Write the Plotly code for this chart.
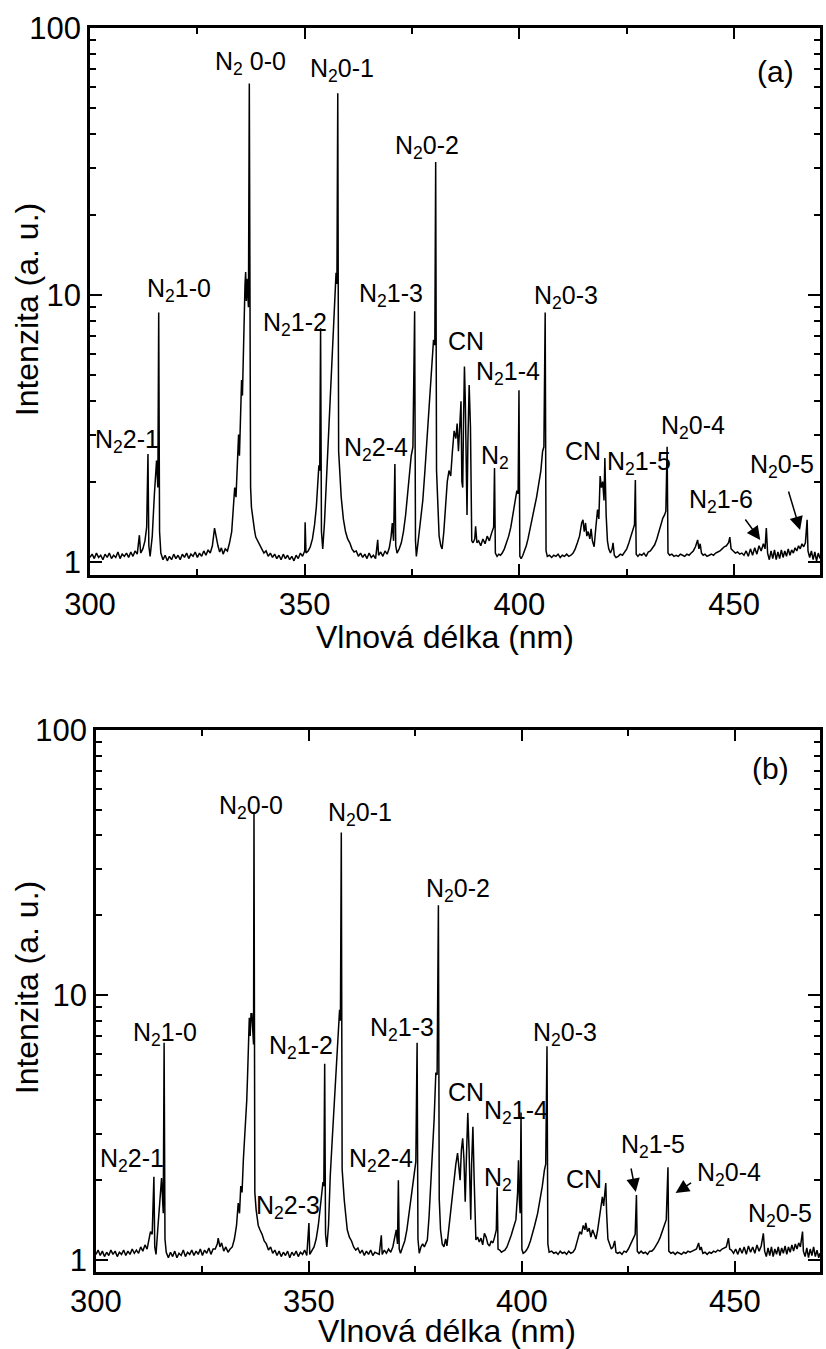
import plotly.graph_objects as go

# ---------------- data: panel (a) ----------------
wl_a = [300.0,300.5,301.0,301.5,302.0,302.5,303.0,303.5,304.0,304.5,305.0,305.5,306.0,306.5,307.0,307.5,308.0,308.5,309.0,309.5,
        310.0,310.5,311.0,311.5,311.8,312.3,312.8,313.2,313.5,313.7,314.0,314.5,315.0,315.5,315.8,316.0,316.2,316.5,317.0,317.5,
        318.0,318.5,319.0,319.5,320.0,320.5,321.0,321.5,322.0,322.5,323.0,323.5,324.0,324.5,325.0,325.5,326.0,326.5,327.0,327.5,
        328.0,328.5,329.0,329.4,329.8,330.2,330.6,331.0,331.5,332.0,332.5,333.0,333.4,333.7,334.0,334.3,334.6,334.8,335.0,335.3,
        335.5,335.7,335.9,336.1,336.25,336.4,336.55,336.7,336.9,337.1,337.25,337.4,337.6,337.8,338.0,338.3,338.6,339.0,339.5,340.0,
        340.5,341.0,341.5,342.0,342.5,343.0,343.5,344.0,344.5,345.0,345.5,346.0,346.5,347.0,347.5,348.0,348.5,349.0,349.5,350.0,
        350.1,350.3,350.8,351.3,351.8,352.3,352.7,353.0,353.3,353.5,353.7,353.9,354.2,354.6,355.0,355.4,355.8,356.2,356.6,357.0,
        357.3,357.5,357.7,357.9,358.2,358.5,359.0,359.5,360.0,360.5,361.0,361.5,362.0,362.5,363.0,363.5,364.0,364.5,365.0,365.5,
        366.0,366.5,367.0,367.2,367.7,368.2,368.7,369.2,369.7,370.1,370.4,370.7,371.0,371.2,371.5,372.0,372.5,373.0,373.5,374.0,
        374.4,374.8,375.2,375.6,375.8,376.0,376.3,376.7,377.1,377.5,378.0,378.5,379.0,379.5,380.0,380.3,380.5,380.7,381.0,381.3,
        381.7,382.0,382.4,382.8,383.2,383.6,384.0,384.4,384.8,385.2,385.5,385.8,386.1,386.4,386.6,386.8,387.0,387.2,387.4,387.6,
        387.8,388.0,388.3,388.6,388.9,389.2,389.6,389.8,390.1,390.5,391.0,391.5,392.0,392.5,393.0,393.5,394.0,394.2,394.4,394.8,
        395.2,395.6,396.0,396.5,397.0,397.5,398.0,398.5,399.0,399.4,399.7,399.9,400.1,400.4,400.8,401.2,401.6,402.0,402.5,403.0,
        403.5,404.0,404.5,405.0,405.4,405.7,406.0,406.2,406.5,407.0,407.5,408.0,408.5,409.0,409.5,410.0,410.5,411.0,411.5,412.0,
        412.5,413.0,413.5,414.0,414.5,414.8,415.1,415.4,415.7,416.0,416.4,416.7,417.0,417.4,417.8,418.2,418.5,418.8,419.1,419.4,
        419.7,419.9,420.2,420.5,420.8,421.2,421.6,421.8,422.1,422.5,423.0,423.5,424.0,424.5,425.0,425.5,426.0,426.5,426.8,427.0,
        427.2,427.6,428.0,428.5,429.0,429.5,430.0,430.5,431.0,431.5,432.0,432.5,433.0,433.4,433.8,434.1,434.4,434.6,435.0,435.5,
        436.0,436.5,437.0,437.5,438.0,438.5,439.0,439.5,440.0,440.5,441.0,441.5,441.8,442.1,442.4,442.8,443.2,443.7,444.2,444.7,
        445.2,445.7,446.2,446.7,447.2,447.7,448.2,448.7,449.0,449.3,449.8,450.3,450.8,451.3,451.8,452.3,452.8,453.3,453.8,454.3,
        454.8,455.3,455.8,456.3,456.8,457.2,457.5,457.8,458.2,458.6,459.0,459.4,459.8,460.2,460.6,461.0,461.4,461.8,462.2,462.6,
        463.0,463.4,463.8,464.2,464.6,465.0,465.4,465.8,466.2,466.6,467.0,467.2,467.6,468.0,468.4,468.8,469.2,469.6,470.0]
int_a = [1.04,1.07,1.03,1.08,1.04,1.06,1.02,1.07,1.04,1.08,1.03,1.06,1.04,1.09,1.03,1.07,1.05,1.08,1.04,1.09,
         1.05,1.10,1.07,1.26,1.08,1.12,1.20,1.35,2.54,1.15,1.05,1.25,1.80,2.40,1.90,8.60,1.30,1.08,1.02,1.06,
         1.01,1.05,1.02,1.07,1.03,1.06,1.02,1.07,1.04,1.08,1.03,1.07,1.05,1.09,1.04,1.08,1.05,1.10,1.06,1.11,
         1.08,1.15,1.34,1.22,1.15,1.09,1.13,1.07,1.12,1.10,1.18,1.30,1.55,1.90,1.75,2.40,3.00,2.50,3.60,4.80,
         4.20,6.50,8.00,11.0,12.2,9.50,11.5,10.4,9.00,62.0,2.30,1.90,1.60,1.50,1.38,1.32,1.24,1.20,1.15,1.12,
         1.08,1.10,1.05,1.08,1.04,1.07,1.03,1.06,1.02,1.07,1.03,1.06,1.02,1.05,1.01,1.06,1.03,1.08,1.05,1.10,
         1.41,1.08,1.10,1.14,1.22,1.38,1.60,1.90,2.30,2.20,7.50,1.30,1.12,1.40,1.90,2.60,3.40,4.60,6.50,9.00,
         12.1,11.0,57.0,2.60,2.10,1.75,1.45,1.30,1.22,1.18,1.12,1.09,1.10,1.05,1.08,1.04,1.07,1.03,1.08,1.04,
         1.06,1.03,1.21,1.06,1.09,1.05,1.10,1.07,1.13,1.24,1.40,1.20,2.33,1.15,1.08,1.12,1.18,1.30,1.50,1.80,
         2.10,2.50,2.70,8.70,1.20,1.05,1.15,1.30,1.45,1.70,2.20,2.90,3.70,5.00,6.80,6.50,31.5,2.20,1.50,1.25,
         1.15,1.12,1.30,1.70,2.00,2.20,2.10,2.60,3.10,2.90,3.30,2.60,3.50,4.00,2.00,1.90,3.50,5.40,4.00,2.50,
         1.50,2.80,4.60,3.20,1.20,1.18,1.22,1.36,1.18,1.20,1.15,1.22,1.17,1.25,1.20,1.28,1.35,2.25,1.08,1.05,
         1.07,1.06,1.08,1.12,1.18,1.25,1.35,1.50,1.70,1.85,1.80,4.40,1.05,1.03,1.06,1.10,1.15,1.22,1.35,1.48,
         1.60,1.75,1.95,2.20,2.60,2.70,8.60,1.10,1.05,1.06,1.04,1.06,1.05,1.07,1.04,1.06,1.05,1.07,1.05,1.06,
         1.08,1.12,1.18,1.25,1.40,1.44,1.30,1.40,1.25,1.30,1.22,1.33,1.20,1.14,1.35,1.57,1.45,2.10,1.90,2.00,
         1.70,2.45,1.50,1.20,1.12,1.08,1.12,1.18,1.06,1.04,1.05,1.07,1.06,1.09,1.12,1.18,1.25,1.35,1.38,2.03,
         1.07,1.05,1.07,1.06,1.08,1.05,1.09,1.10,1.13,1.16,1.22,1.30,1.38,1.46,1.50,1.55,2.70,1.08,1.06,1.07,
         1.05,1.06,1.05,1.07,1.06,1.05,1.07,1.06,1.08,1.10,1.14,1.21,1.12,1.17,1.08,1.06,1.07,1.05,1.06,1.07,
         1.06,1.08,1.09,1.10,1.12,1.14,1.15,1.18,1.24,1.12,1.10,1.08,1.09,1.07,1.08,1.06,1.10,1.05,1.12,1.06,
         1.13,1.07,1.15,1.10,1.17,1.12,1.34,1.08,1.02,1.10,1.03,1.11,1.02,1.09,1.03,1.11,1.04,1.10,1.05,1.12,
         1.06,1.11,1.08,1.13,1.10,1.15,1.12,1.17,1.14,1.18,1.44,1.10,1.04,1.10,1.02,1.09,1.01,1.08,1.03]

# ---------------- data: panel (b) ----------------
wl_b = [300.0,300.5,301.0,301.5,302.0,302.5,303.0,303.5,304.0,304.5,305.0,305.5,306.0,306.5,307.0,307.5,308.0,308.5,309.0,309.5,
        310.0,310.5,311.0,311.5,312.0,312.5,312.8,313.2,313.6,313.8,314.1,314.5,315.0,315.4,315.8,316.0,316.2,316.5,317.0,317.5,
        318.0,318.5,319.0,319.5,320.0,320.5,321.0,321.5,322.0,322.5,323.0,323.5,324.0,324.5,325.0,325.5,326.0,326.5,327.0,327.5,
        328.0,328.5,328.7,329.1,329.5,330.0,330.5,331.0,331.5,332.0,332.5,333.0,333.4,333.7,334.0,334.3,334.6,334.9,335.2,335.4,
        335.6,335.8,336.0,336.2,336.4,336.6,336.8,337.0,337.1,337.3,337.6,337.8,338.1,338.5,339.0,339.5,340.0,340.5,341.0,341.5,
        342.0,342.5,343.0,343.5,344.0,344.5,345.0,345.5,346.0,346.5,347.0,347.5,348.0,348.5,349.0,349.5,350.0,350.2,350.7,351.2,
        351.7,352.2,352.7,353.0,353.3,353.5,353.7,353.9,354.2,354.6,355.0,355.5,356.1,356.6,357.0,357.2,357.4,357.6,357.8,358.0,
        358.3,358.7,359.0,359.5,360.0,360.5,361.0,361.5,362.0,362.5,363.0,363.5,364.0,364.5,365.0,365.5,366.0,366.5,367.0,367.2,
        367.7,368.2,368.7,369.2,369.7,370.0,370.5,370.8,371.0,371.2,371.5,372.0,372.5,373.0,373.5,374.0,374.4,374.8,375.1,375.4,
        375.6,375.9,376.3,376.7,377.1,377.5,377.8,378.2,378.6,379.0,379.4,379.8,380.1,380.4,380.6,380.9,381.3,381.7,382.1,382.4,
        382.8,383.2,383.7,384.1,384.5,384.9,385.2,385.5,385.8,386.1,386.4,386.7,387.0,387.3,387.6,388.0,388.2,388.5,388.8,389.2,
        389.6,390.0,390.4,390.8,391.2,391.6,392.0,392.4,392.8,393.2,393.6,394.0,394.2,394.4,394.8,395.2,395.6,396.0,396.5,397.0,
        397.5,398.0,398.6,399.0,399.2,399.4,399.6,399.8,400.0,400.3,400.7,401.1,401.5,402.0,402.5,403.0,403.7,404.2,404.8,405.3,
        405.6,405.9,406.1,406.4,407.0,407.5,408.0,408.5,409.0,409.5,410.0,410.5,411.0,411.5,412.0,412.5,413.1,413.6,414.0,414.4,
        414.8,415.0,415.4,415.8,416.2,416.6,417.0,417.4,417.8,418.2,418.6,418.9,419.2,419.5,419.7,419.9,420.2,420.6,421.0,421.4,
        421.8,422.1,422.5,423.0,423.5,424.0,424.5,425.0,425.5,426.0,426.3,426.6,426.9,427.1,427.5,428.0,428.5,429.0,429.5,430.0,
        430.5,431.0,431.5,432.0,432.5,433.0,433.6,433.9,434.3,434.5,435.0,435.5,436.0,436.5,437.0,437.5,438.0,438.5,439.0,439.5,
        440.0,440.5,441.0,441.5,441.8,442.1,442.5,443.0,443.5,444.0,444.5,445.0,445.5,446.0,446.5,447.0,447.5,448.0,448.5,448.8,
        449.2,449.7,450.2,450.7,451.2,451.7,452.2,452.7,453.2,453.7,454.2,454.7,455.2,455.7,456.2,456.7,457.0,457.4,457.8,458.2,
        458.6,459.0,459.4,459.8,460.2,460.6,461.0,461.4,461.8,462.2,462.6,463.0,463.4,463.8,464.2,464.6,465.0,465.4,465.9,466.1,
        466.5,466.9,467.3,467.7,468.1,468.5,468.9,469.3,469.7,470.0]
int_b = [1.05,1.09,1.04,1.08,1.03,1.07,1.04,1.09,1.05,1.08,1.03,1.07,1.05,1.09,1.04,1.08,1.05,1.10,1.06,1.09,
         1.06,1.12,1.08,1.14,1.10,1.20,1.28,1.25,2.06,1.12,1.05,1.30,1.70,2.04,1.50,6.60,1.20,1.07,1.02,1.07,
         1.03,1.08,1.02,1.06,1.04,1.09,1.03,1.07,1.05,1.09,1.04,1.08,1.05,1.10,1.04,1.09,1.06,1.11,1.05,1.10,
         1.10,1.15,1.21,1.12,1.16,1.08,1.12,1.07,1.10,1.12,1.20,1.35,1.64,1.50,1.90,1.80,2.38,2.80,3.30,4.00,
         5.00,6.50,8.20,7.00,8.50,8.50,7.50,6.50,49.0,1.80,1.55,1.45,1.35,1.30,1.25,1.18,1.15,1.09,1.12,1.06,
         1.09,1.04,1.08,1.03,1.07,1.04,1.08,1.02,1.07,1.04,1.08,1.03,1.07,1.05,1.09,1.04,1.38,1.05,1.08,1.12,
         1.20,1.35,1.60,1.80,1.97,1.90,5.50,1.25,1.12,1.35,2.06,2.90,4.27,6.00,7.80,8.80,8.00,41.0,2.20,1.90,
         1.68,1.45,1.30,1.22,1.18,1.12,1.09,1.11,1.06,1.09,1.04,1.08,1.05,1.09,1.04,1.07,1.06,1.05,1.24,1.05,
         1.09,1.06,1.10,1.07,1.12,1.18,1.30,1.15,2.00,1.10,1.06,1.12,1.18,1.30,1.50,1.75,2.00,2.24,2.35,6.60,
         1.20,1.06,1.12,1.15,1.12,1.16,1.19,1.45,1.90,2.38,3.40,5.10,5.00,21.8,1.70,1.30,1.15,1.12,1.20,1.13,
         1.30,1.55,1.79,2.00,2.30,2.53,2.20,2.00,2.60,2.88,2.40,1.66,2.50,3.59,2.60,1.42,2.30,3.18,2.00,1.19,
         1.22,1.17,1.21,1.14,1.26,1.22,1.15,1.13,1.18,1.16,1.22,1.30,1.88,1.10,1.09,1.07,1.08,1.09,1.12,1.17,
         1.24,1.32,1.42,1.80,2.38,1.70,1.50,3.60,1.10,1.06,1.07,1.09,1.12,1.18,1.25,1.35,1.50,1.65,1.90,2.19,
         2.30,6.40,1.15,1.07,1.08,1.06,1.07,1.05,1.08,1.06,1.07,1.05,1.08,1.06,1.07,1.10,1.19,1.28,1.25,1.35,
         1.30,1.38,1.28,1.32,1.22,1.30,1.25,1.20,1.30,1.45,1.60,1.73,1.60,1.80,1.95,1.50,1.20,1.15,1.10,1.12,
         1.18,1.07,1.06,1.07,1.05,1.08,1.07,1.10,1.14,1.18,1.22,1.25,1.76,1.08,1.06,1.08,1.06,1.07,1.05,1.08,
         1.08,1.10,1.13,1.17,1.22,1.28,1.38,1.42,2.24,1.08,1.06,1.07,1.05,1.07,1.06,1.05,1.07,1.06,1.08,1.07,
         1.08,1.09,1.10,1.16,1.09,1.12,1.06,1.07,1.05,1.07,1.06,1.08,1.07,1.09,1.08,1.10,1.11,1.12,1.21,1.10,
         1.09,1.06,1.10,1.05,1.11,1.06,1.12,1.05,1.13,1.07,1.12,1.06,1.14,1.08,1.13,1.26,1.08,1.03,1.11,1.04,
         1.12,1.03,1.10,1.05,1.12,1.04,1.11,1.06,1.13,1.05,1.12,1.07,1.14,1.08,1.15,1.10,1.16,1.12,1.28,1.08,
         1.03,1.11,1.02,1.10,1.04,1.12,1.03,1.09,1.02,1.06]

# axis settings (values)
x_range = [300, 470]
x_tick0, x_dtick, x_minor_dtick = 300, 50, 25

# labels: (text, x_px, y_px, font size)
labels_a = [("N<sub>2</sub> 0-0", 251, 63, 25), ("N<sub>2</sub>0-1", 343, 70, 25), ("N<sub>2</sub>0-2", 428, 147, 25),
            ("N<sub>2</sub>1-0", 179, 290, 25), ("N<sub>2</sub>1-2", 296, 324, 25), ("N<sub>2</sub>1-3", 392, 295, 25),
            ("N<sub>2</sub>0-3", 568, 297, 25), ("CN", 468, 341, 25), ("N<sub>2</sub>1-4", 510, 373, 25),
            ("N<sub>2</sub>2-1", 127, 441, 25), ("N<sub>2</sub>2-4", 377, 449, 25), ("N<sub>2</sub>", 497, 457, 25),
            ("CN", 585, 451, 25), ("N<sub>2</sub>1-5", 641, 463, 25), ("N<sub>2</sub>0-4", 695, 427, 25),
            ("N<sub>2</sub>1-6", 724, 501, 25), ("N<sub>2</sub>0-5", 785, 466, 25), ("(a)", 778, 72, 30)]
labels_b = [("N<sub>2</sub>0-0", 252, 807, 25), ("N<sub>2</sub>0-1", 361, 814, 25), ("N<sub>2</sub>0-2", 460, 890, 25),
            ("N<sub>2</sub>1-0", 165, 1034, 25), ("N<sub>2</sub>1-2", 302, 1047, 25), ("N<sub>2</sub>2-1", 132, 1160, 25),
            ("N<sub>2</sub>2-3", 289, 1207, 25), ("N<sub>2</sub>2-4", 382, 1160, 25), ("N<sub>2</sub>1-3", 403, 1029, 25),
            ("N<sub>2</sub>0-3", 567, 1034, 25), ("CN", 468, 1092, 25), ("N<sub>2</sub>1-4", 518, 1112, 25),
            ("N<sub>2</sub>", 500, 1179, 25), ("CN", 586, 1179, 25), ("N<sub>2</sub>1-5", 655, 1146, 25),
            ("N<sub>2</sub>0-4", 732, 1174, 25), ("N<sub>2</sub>0-5", 783, 1215, 25), ("(b)", 773, 768, 30)]
# arrows: (head_x, head_y, tail_x, tail_y) in px
arrows = [(763, 540, 747, 518), (803, 530, 791, 490), (638, 1192, 633, 1167), (678, 1193, 695, 1182)]

W, H = 826, 1349
ML, MR, MT, MB = 90, 3, 28, 77
IW, IH = W - ML - MR, H - MT - MB
FONT = "Liberation Sans, Arial, Helvetica, sans-serif"

def px(x):
    return (x - ML) / IW

def py(y):
    return (H - MB - y) / IH

fig = go.Figure()
fig.add_trace(go.Scatter(x=wl_a, y=int_a, mode="lines", line=dict(color="black", width=1.5),
                         xaxis="x", yaxis="y", showlegend=False))
fig.add_trace(go.Scatter(x=wl_b, y=int_b, mode="lines", line=dict(color="black", width=1.5),
                         xaxis="x2", yaxis="y2", showlegend=False))

def xaxis_cfg(domain, anchor):
    return dict(domain=domain, anchor=anchor, range=x_range, tickmode="linear", tick0=x_tick0, dtick=x_dtick,
                ticks="inside", ticklen=11, tickwidth=2, tickcolor="black",
                minor=dict(dtick=x_minor_dtick, ticks="inside", ticklen=6, tickwidth=2, tickcolor="black",
                           showgrid=False),
                showline=True, linewidth=2.5, linecolor="black", mirror="ticks", showgrid=False, zeroline=False,
                tickfont=dict(family=FONT, size=31, color="black"))

def yaxis_cfg(domain, anchor, lo):
    return dict(domain=domain, anchor=anchor, type="log", range=[lo, 2], tickmode="linear", tick0=0, dtick=1,
                ticks="inside", ticklen=12, tickwidth=2, tickcolor="black",
                minor=dict(dtick="D1", ticks="inside", ticklen=6, tickwidth=2, tickcolor="black", showgrid=False),
                showline=True, linewidth=2.5, linecolor="black", mirror="ticks", showgrid=False, zeroline=False,
                tickfont=dict(family=FONT, size=31, color="black"))

annotations = []
for text, x, y, fs in labels_a + labels_b:
    annotations.append(dict(text=text, x=px(x), y=py(y), xref="paper", yref="paper", showarrow=False,
                            xanchor="center", yanchor="middle", font=dict(family=FONT, size=fs, color="black")))
for hx, hy, tx, ty in arrows:
    annotations.append(dict(text="", x=px(hx), y=py(hy), xref="paper", yref="paper", showarrow=True,
                            ax=tx - hx, ay=ty - hy, arrowhead=2, arrowsize=1.8, arrowwidth=1.5, arrowcolor="black"))
# axis titles
for yc in (310, 988):
    annotations.append(dict(text="Intenzita (a. u.)", x=px(27), y=py(yc), xref="paper", yref="paper",
                            showarrow=False, textangle=-90, xanchor="center", yanchor="middle",
                            font=dict(family=FONT, size=32, color="black")))
for xc, yc in ((446, 637), (448, 1331)):
    annotations.append(dict(text="Vlnová délka (nm)", x=px(xc), y=py(yc), xref="paper", yref="paper",
                            showarrow=False, xanchor="center", yanchor="middle",
                            font=dict(family=FONT, size=32, color="black")))

fig.update_layout(
    width=W, height=H, margin=dict(l=ML, r=MR, t=MT, b=MB),
    paper_bgcolor="white", plot_bgcolor="white",
    xaxis=xaxis_cfg([px(90), px(823)], "y"),
    yaxis=yaxis_cfg([py(575), py(28)], "x", -0.0487),
    xaxis2=xaxis_cfg([px(96), px(823)], "y2"),
    yaxis2=yaxis_cfg([py(1272), py(730)], "x2", -0.0453),
    annotations=annotations,
)

fig.write_html("out.html")
